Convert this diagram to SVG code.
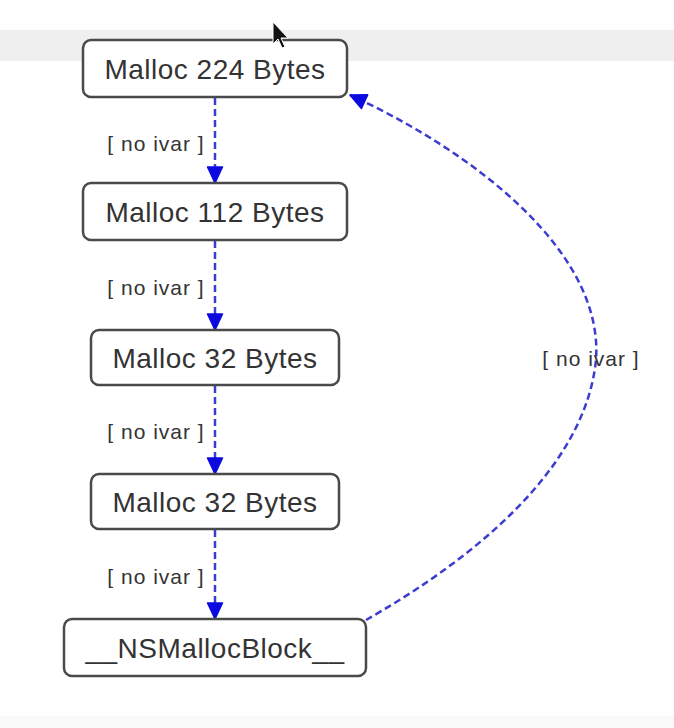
<svg xmlns="http://www.w3.org/2000/svg" width="674" height="728" viewBox="0 0 674 728">
<style>
.node rect{fill:#fff;stroke:#4a4a4a;stroke-width:2.5}
.node text{font-family:"Liberation Sans",Arial,sans-serif;font-size:28px;letter-spacing:0.5px;fill:#333;text-anchor:middle}
.lbl{font-family:"Liberation Sans",Arial,sans-serif;font-size:21px;letter-spacing:1px;fill:#333}
.edge{fill:none;stroke:#3c3cd0;stroke-width:2.5;stroke-dasharray:7 4}
</style>
<defs>
<marker id="ah" markerUnits="userSpaceOnUse" markerWidth="20" markerHeight="20" viewBox="0 0 20 20" refX="18" refY="10" orient="auto">
<path d="M2,2.5 L18,10 L2,17.5 Z" fill="#0a0ae0" stroke="#0a0ae0" stroke-width="1.5" stroke-linejoin="round"/>
</marker>
</defs>
<rect x="0" y="0" width="674" height="728" fill="#fff"/>
<rect x="0" y="30" width="674" height="31" fill="#efefef"/>
<rect x="0" y="716" width="674" height="12" fill="#fafafa"/>
<g id="connectors">
<path class="edge" d="M215,98 L215,183" marker-end="url(#ah)"/>
<path class="edge" d="M215,241 L215,330" marker-end="url(#ah)"/>
<path class="edge" d="M215,386 L215,474" marker-end="url(#ah)"/>
<path class="edge" d="M215,530 L215,619" marker-end="url(#ah)"/>
<path class="edge" d="M366,620 C450,572 584,480 596,360 C604,250 470,150 350,95" marker-end="url(#ah)"/>
<text class="lbl" x="156" y="151" text-anchor="middle">[ no ivar ]</text>
<text class="lbl" x="156" y="295" text-anchor="middle">[ no ivar ]</text>
<text class="lbl" x="156" y="439" text-anchor="middle">[ no ivar ]</text>
<text class="lbl" x="156" y="584" text-anchor="middle">[ no ivar ]</text>
<text class="lbl" x="591" y="366" text-anchor="middle">[ no ivar ]</text>
</g>
<g id="n1" class="node"><rect x="83" y="40" width="264" height="57" rx="8"/><text x="215" y="79">Malloc 224 Bytes</text></g>
<g id="n2" class="node"><rect x="83" y="183" width="264" height="57" rx="8"/><text x="215" y="222">Malloc 112 Bytes</text></g>
<g id="n3" class="node"><rect x="91" y="330" width="248" height="55" rx="8"/><text x="215" y="368">Malloc 32 Bytes</text></g>
<g id="n4" class="node"><rect x="91" y="474" width="248" height="55" rx="8"/><text x="215" y="512">Malloc 32 Bytes</text></g>
<g id="n5" class="node"><rect x="64" y="619" width="302" height="57" rx="8"/><text x="215" y="658">__NSMallocBlock__</text></g>
<path d="M273,22 L273,44 L278,39 L282,48 L285,47 L281,38 L288,38 Z" fill="#111" stroke="#fff" stroke-width="1"/>
</svg>
